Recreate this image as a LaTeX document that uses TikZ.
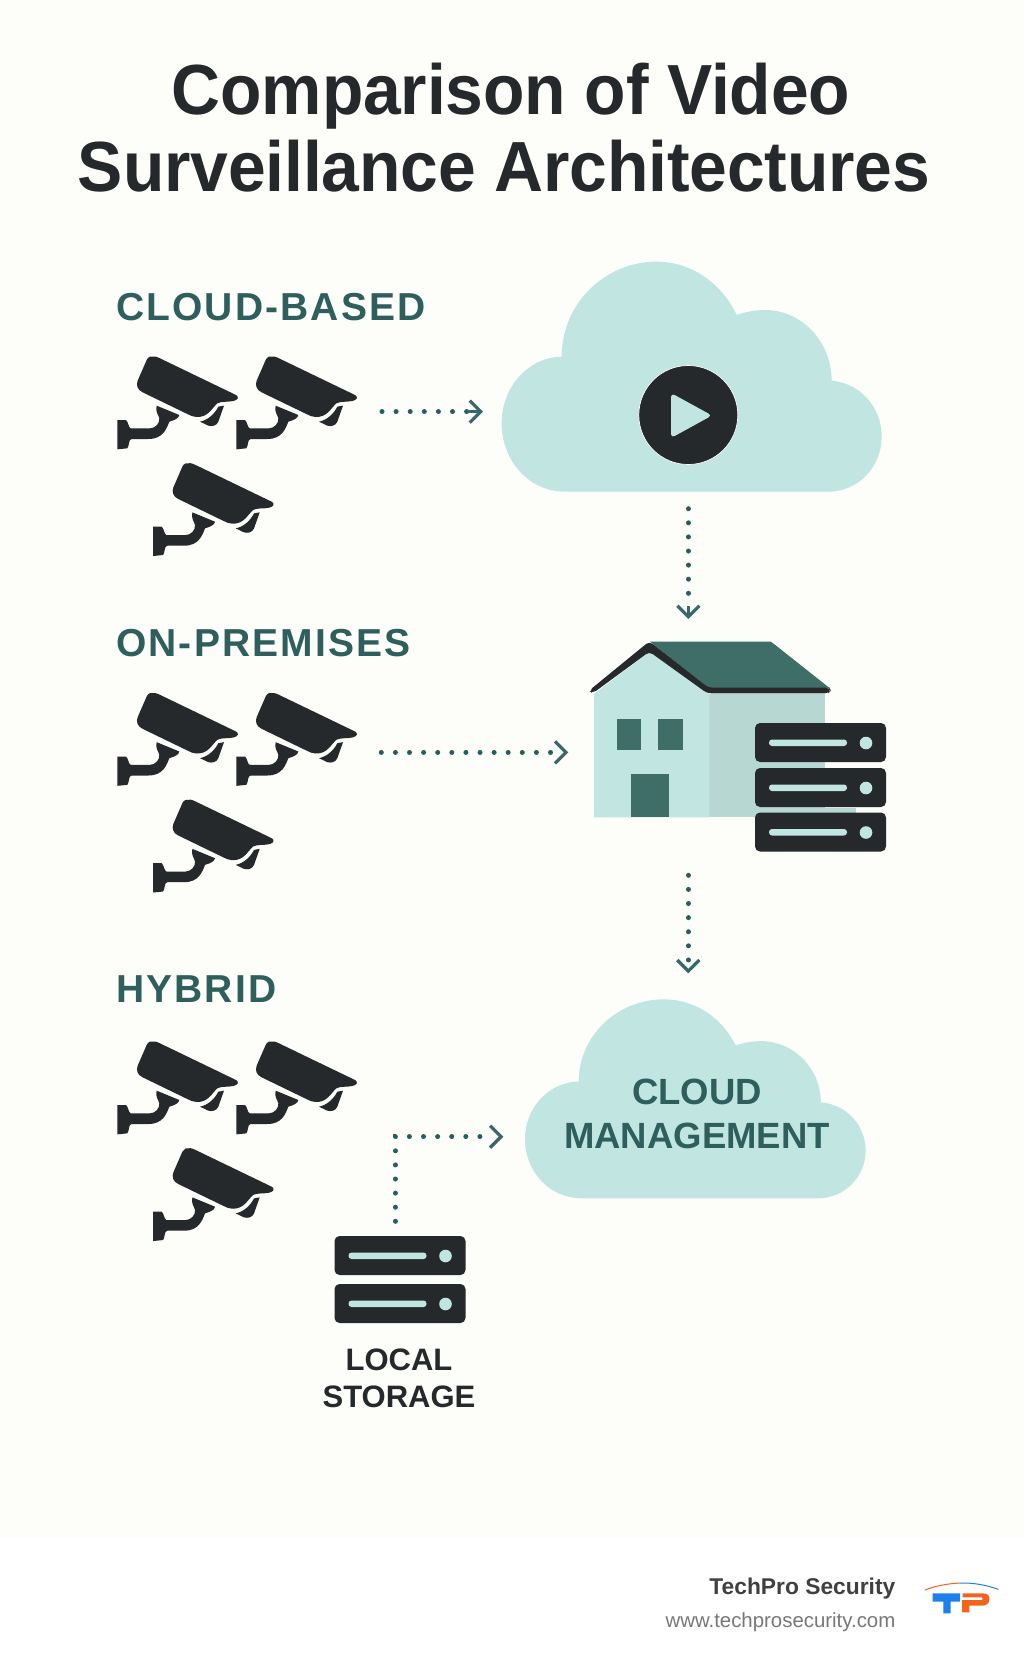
\documentclass[tikz,border=0pt]{standalone}
\usepackage{fontspec}
\usetikzlibrary{arrows.meta}
\setmainfont{Liberation Sans}
\newfontfamily\titlefont[FakeStretch=0.955,LetterSpace=-0.2]{Liberation Sans Bold}
\newfontfamily\labelfont[LetterSpace=5.5]{Liberation Sans Bold}
\definecolor{bgc}{HTML}{FDFDFA}
\definecolor{ink}{HTML}{25292B}
\definecolor{tealc}{HTML}{2F5F5D}
\definecolor{dotc}{HTML}{25605F}
\definecolor{headc}{HTML}{37696A}
\definecolor{lightc}{HTML}{C1E5E0}
\definecolor{sidec}{HTML}{B7D8D2}
\definecolor{roofc}{HTML}{3F6E69}
\definecolor{footblue}{HTML}{1E80EA}
\definecolor{footorange}{HTML}{F0641E}
\tikzset{
  x=1pt,y=-1pt,
  title/.style={font=\titlefont\fontsize{71}{71}\selectfont,text=ink,anchor=base,inner sep=0pt},
  section/.style={font=\labelfont\fontsize{39}{39}\selectfont,text=tealc,anchor=base west,inner sep=0pt},
  dots/.style={draw=dotc,line width=5pt,line cap=round,dash pattern=on 0.01pt off 14.09pt},
  headtip/.style={-{Straight Barb[length=11pt,width=22pt,line width=3.2pt]}},
  stemline/.style={draw=headc,line width=2.6pt,headtip},
  chevron/.style={draw=headc,line width=0.01pt,headtip},
  cloudshape/.style={fill=lightc},
  cam/.pic={
    \fill[ink] (150,50) .. controls (160,47) and (170,50) .. (180,55) -- (408,165) .. controls (418,170) and (415,180) .. (400,183) .. controls (380,187) and (365,183) .. (352,190) .. controls (335,205) and (325,232) .. (290,231) .. controls (280,231) and (272,227) .. (262,222) -- (128,157) .. controls (112,150) and (108,135) .. (113,122) -- (140,60) .. controls (142,55) and (145,52) .. (150,50) -- cycle;
    \fill[ink] (52,240) -- (78,240) .. controls (85,245) and (85,262) .. (92,265) -- (150,265) .. controls (165,265) and (180,250) .. (178,235) .. controls (176,225) and (165,215) .. (170,197) -- (238,225) .. controls (236,235) and (225,240) .. (208,245) .. controls (200,265) and (190,297) .. (145,297) -- (95,297) .. controls (85,297) and (88,320) .. (82,325) -- (52,328) -- cycle;
    \fill[ink] (355,200) -- (372,197) -- (355,245) .. controls (350,258) and (335,260) .. (325,257) -- (300,245) .. controls (325,240) and (345,220) .. (355,200) -- cycle;
  },
  srv/.pic={
    \fill[ink,rounded corners=5pt] (0,0) rectangle (131,39);
    \fill[lightc,rounded corners=3pt] (14,16.5) rectangle (92,23);
    \fill[lightc] (111,20) circle (6.3);
  },
  cloud/.pic={
    \path[cloudshape] (225,725) .. controls (115,725) and (35,630) .. (35,520)
      .. controls (35,410) and (115,322) .. (215,320)
      .. controls (215,160) and (345,35) .. (500,35)
      .. controls (605,35) and (695,100) .. (740,195)
      .. controls (770,185) and (795,180) .. (825,180)
      .. controls (935,180) and (1025,275) .. (1025,392)
      .. controls (1110,400) and (1175,470) .. (1175,560)
      .. controls (1175,650) and (1105,725) .. (1015,725) -- cycle;
  },
}
\begin{document}
\begin{tikzpicture}
\useasboundingbox (0,0) rectangle (1024,1666);
\fill[bgc] (0,0) rectangle (1024,1538);
\fill[white] (0,1538) rectangle (1024,1666);
% title
\node[title] (t1) at (511,114) {Comparison of Video};
\node[title] (t2) at (504,191) {Surveillance Architectures};
% sections
\node[section] (s1) at (116,320.5) {CLOUD-BASED};
\node[section] (s2) at (116,656) {ON-PREMISES};
\node[section] (s3) at (116,1002) {HYBRID};
% cameras
\foreach \dy in {0,336.5,685}{
  \pic[scale=1/3] at (100,340+\dy) {cam};
  \pic[scale=1/3] at (219,340+\dy) {cam};
  \pic[scale=1/3] at (135.7,446.7+\dy) {cam};
}
% cloud 1
\pic[scale=1/3] at (490,250) {cloud};
\node[circle,fill=ink,draw=white,line width=0.7pt,minimum size=99pt,inner sep=0pt] (play) at (688.3,415) {};
\fill[lightc,rounded corners=4pt] (671,393) -- (712,415.5) -- (671,438) -- cycle;
% cloud 2
\pic[xscale=0.2988,yscale=0.2883] at (514.54,989.24) {cloud};
\node[font=\bfseries\fontsize{36.5}{36}\selectfont,text=tealc,anchor=base,inner sep=0pt] (cm1) at (697,1104) {CLOUD};
\node[font=\bfseries\fontsize{36.5}{36}\selectfont,text=tealc,anchor=base,inner sep=0pt] (cm2) at (697,1148) {MANAGEMENT};
% house
\begin{scope}[shift={(570,620)},scale=1/3]
  \fill[sidec] (418,222) rectangle (765,592);
  \fill[sidec] (418,565) rectangle (858,592);
  \fill[lightc] (72,222) -- (238,95) -- (418,222) -- (418,592) -- (72,592) -- cycle;
  \fill[roofc] (240,65) -- (603,65) -- (780,205) -- (415,205) -- cycle;
  \fill[ink,rounded corners=4pt] (57,212) -- (238,64) -- (415,203) -- (778,203) -- (783,212) -- (775,220) -- (412,220) -- (238,95) -- (68,220) -- cycle;
  \fill[roofc] (142,297) rectangle (213,390);
  \fill[roofc] (265,297) rectangle (338,390);
  \fill[roofc] (184,462) rectangle (297,592);
\end{scope}
\pic at (755,723) {srv};
\pic at (755,768) {srv};
\pic at (755,812.5) {srv};
\pic at (334.5,1236) {srv};
\pic at (334.5,1284) {srv};
% local storage
\node[font=\bfseries\fontsize{31}{31}\selectfont,text=ink,anchor=base,inner sep=0pt] (ls1) at (399,1370.7) {LOCAL};
\node[font=\bfseries\fontsize{31}{31}\selectfont,text=ink,anchor=base,inner sep=0pt] (ls2) at (399,1407) {STORAGE};
% connectors
\coordinate (a1s) at (382,411.7); \coordinate (a1e) at (467,411.7); \coordinate (a1t) at (483,411.7);
\coordinate (a2s) at (688.3,508.7); \coordinate (a2e) at (688.3,593.5); \coordinate (a2b) at (688.3,606); \coordinate (a2t) at (688.3,619);
\coordinate (a3s) at (381.3,752.3); \coordinate (a3e) at (551,752.3); \coordinate (a3b) at (568,752.3); \coordinate (a3t) at (568.3,752.3);
\coordinate (a4s) at (688.3,875.3); \coordinate (a4e) at (688.3,960.3); \coordinate (a4b) at (688.3,973); \coordinate (a4t) at (688.3,973.3);
\coordinate (a5s) at (395.3,1221.3); \coordinate (a5c) at (395.3,1136.7); \coordinate (a5e) at (480.4,1136.7); \coordinate (a5b) at (503,1136.7); \coordinate (a5t) at (503.3,1136.7);
\draw[dots] (a1s) -- (a1e); \draw[stemline] (a1e) -- (a1t);
\draw[dots] (a2s) -- (a2e); \draw[stemline] (a2b) -- (a2t);
\draw[dots] (a3s) -- (a3e); \draw[chevron] (a3b) -- (a3t);
\draw[dots] (a4s) -- (a4e); \draw[chevron] (a4b) -- (a4t);
\draw[dots] (a5s) -- (a5c) -- (a5e); \draw[chevron] (a5b) -- (a5t);
% footer
\node[font=\bfseries\fontsize{22.8}{24}\selectfont,text=black!75,anchor=base east,inner sep=0pt] (f1) at (895.5,1594) {TechPro Security};
\node[font=\fontsize{20.4}{21}\selectfont,text=black!53,anchor=base east,inner sep=0pt] (f2) at (895.5,1627) {www.techprosecurity.com};
\begin{scope}[shift={(640,1540)},scale=1/3]
  \fill[footblue] (878,160) -- (960,160) -- (960,185) -- (932,185) -- (932,220) -- (910,220) -- (910,185) -- (878,185) -- cycle;
  \fill[footorange] (968,160) -- (1030,160) .. controls (1045,160) and (1050,170) .. (1048,180) .. controls (1046,192) and (1038,197) .. (1025,197) -- (988,197) -- (988,217) -- (966,217) -- (966,180) -- (1025,180) .. controls (1030,180) and (1030,172) .. (1025,172) -- (968,172) -- cycle;
  \draw[footorange,line width=1pt] (855,150) .. controls (885,138) and (920,131) .. (960,129);
  \draw[footblue,line width=1pt] (960,129) .. controls (1000,128) and (1040,135) .. (1075,148);
\end{scope}
\end{tikzpicture}
\end{document}
